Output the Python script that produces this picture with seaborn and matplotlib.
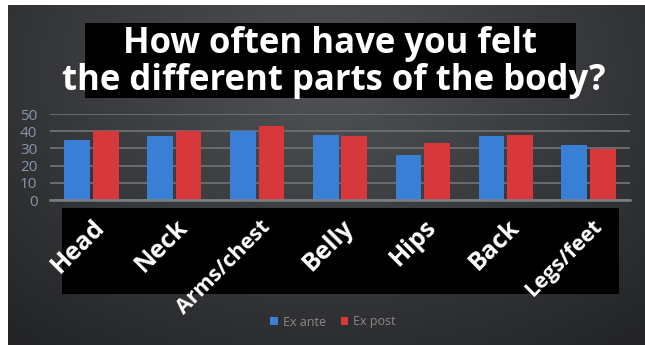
import numpy as np
import pandas as pd
import matplotlib
matplotlib.use("Agg")
import matplotlib.pyplot as plt
import seaborn as sns
from matplotlib.patches import Rectangle
from matplotlib.transforms import ScaledTranslation

# ---- data ----
categories = ["Head", "Neck", "Arms/chest", "Belly", "Hips", "Back", "Legs/feet"]
ex_ante = [35, 37, 40, 38, 26, 37, 32]
ex_post = [40, 40, 43, 37, 33, 38, 29.5]
series_names = ["Ex ante", "Ex post"]
y_ticks = [0, 10, 20, 30, 40, 50]
title_lines = ["How often have you felt", "the different parts of the body?"]

df = pd.DataFrame({
    "part": categories * 2,
    "value": ex_ante + ex_post,
    "series": [series_names[0]] * len(categories) + [series_names[1]] * len(categories),
})

W, H = 645, 345
DPI = 100
sns.set_theme(style="dark")
plt.rcParams['font.family'] = ['Open Sans', 'DejaVu Sans']

fig = plt.figure(figsize=(W / DPI, H / DPI), dpi=DPI, facecolor='white')


def fx(px):
    return px / W


def fy(py):
    return 1 - py / H


# ---- background gradient ----
bg = fig.add_axes([fx(8), 0, 1 - fx(8), fy(5)], zorder=-2)
ny, nx = 200, 400
yy, xx = np.mgrid[0:1:ny * 1j, 0:1:nx * 1j]
d = np.sqrt(((xx - 0.5) / 0.75) ** 2 + ((yy - 0.2) / 1.0) ** 2)
t = np.clip(d, 0, 1) ** 0.9
light = np.array([0x52, 0x54, 0x57]) / 255
dark = np.array([0x24, 0x25, 0x27]) / 255
img = light[None, None, :] * (1 - t[..., None]) + dark[None, None, :] * t[..., None]
bg.imshow(img, aspect='auto', extent=[0, 1, 0, 1], origin='upper')
bg.set_axis_off()

# ---- black boxes ----
fig.patches.append(Rectangle((fx(85), fy(98)), fx(576) - fx(85), (98 - 23) / H,
                             transform=fig.transFigure, facecolor='black',
                             edgecolor='none', zorder=-1))
fig.patches.append(Rectangle((fx(62), fy(294)), fx(619) - fx(62), (294 - 208) / H,
                             transform=fig.transFigure, facecolor='black',
                             edgecolor='none', zorder=-1))

# ---- main axes ----
ax = fig.add_axes([fx(50), fy(200), fx(630) - fx(50), (200 - 114) / H], zorder=0)
ax.set_facecolor('none')
blue = '#3a7fd6'
red = '#d6383c'
sns.barplot(data=df, x="part", y="value", hue="series", palette=[blue, red],
            width=0.69, gap=0.1, saturation=1, ax=ax, legend=True,
            linewidth=0, edgecolor='none')

ax.set_ylim(0, 50)
ax.set_yticks(y_ticks)
ax.set_xlabel("")
ax.set_ylabel("")
for s in ["top", "left", "right"]:
    ax.spines[s].set_visible(False)
ax.spines["bottom"].set_color('#7d7f83')
ax.spines["bottom"].set_linewidth(1.8)
ax.yaxis.grid(True, color='#6a6c70', linewidth=1.4)
ax.xaxis.grid(False)
ax.set_axisbelow(True)

ax.tick_params(axis='y', length=0, pad=9, labelsize=11, labelcolor='#8795aa')
ax.tick_params(axis='x', length=0, pad=17)

ax.set_xticks(range(len(categories)))
ax.set_xticklabels(categories)
offset = ScaledTranslation(10 / DPI, 0, fig.dpi_scale_trans)
for lab in ax.get_xticklabels():
    long = len(lab.get_text()) > 6
    lab.set_fontsize(15.5 if long else 18)
    lab.set_fontweight('bold')
    lab.set_color('white')
    lab.set_rotation(45)
    lab.set_ha('right')
    lab.set_va('center')
    lab.set_rotation_mode('anchor')
    lab.set_transform(lab.get_transform() + offset)

# ---- legend ----
handles, labels = ax.get_legend_handles_labels()
ax.legend(handles, labels, loc='center', bbox_to_anchor=(fx(333), fy(322)),
          bbox_transform=fig.transFigure, ncol=2, frameon=False, fontsize=9,
          labelcolor='#8a8a8a', handlelength=0.6, handleheight=0.6,
          columnspacing=1.2, handletextpad=0.4)

# ---- title ----
fig.text(fx(330), fy(53), title_lines[0], ha='center', va='baseline',
         color='white', fontsize=25, fontweight='bold', zorder=5)
fig.text(fx(333.5), fy(90), title_lines[1], ha='center', va='baseline',
         color='white', fontsize=25, fontweight='bold', zorder=5)

fig.savefig("out.png", dpi=DPI, facecolor='white')
